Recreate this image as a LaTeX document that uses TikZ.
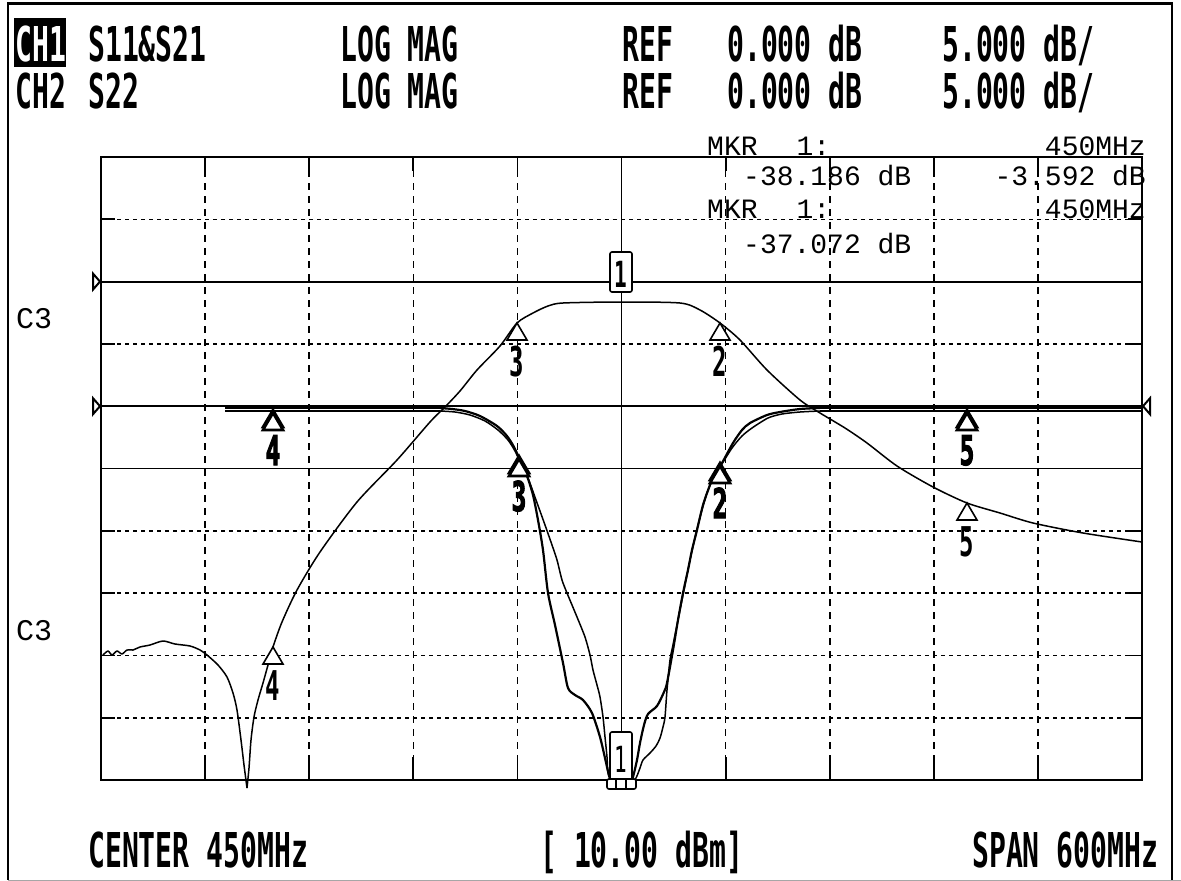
\documentclass[tikz,border=0pt]{standalone}
\usepackage{fontspec}
\newfontfamily\hpfont[FakeStretch=0.585]{DejaVu Sans Mono}
\newfontfamily\hpheavy[FakeStretch=0.585, FakeBold=2.5, UprightFont=* Bold]{DejaVu Sans Mono}
\newfontfamily\thinfont{Liberation Mono}
\tikzset{
  hdr/.style={font=\hpfont\bfseries\fontsize{48}{50}\selectfont, inner sep=0pt},
  thintxt/.style={font=\thinfont\fontsize{28}{30}\selectfont, inner sep=0pt},
  mdigit/.style={font=\hpfont\bfseries\fontsize{41}{42}\selectfont, inner sep=0pt},
  mdigitb/.style={font=\hpheavy\fontsize{41}{42}\selectfont, inner sep=0pt},
  gridsolid/.style={line width=1.8pt},
  griddash/.style={line width=1.6pt, dash pattern=on 7pt off 6pt},
  griddot/.style={line width=1.6pt, dash pattern=on 3.5pt off 4.5pt},
  gridtick/.style={line width=1.8pt},
  trace/.style={line width=1.5pt, line join=round},
  tracebold/.style={line width=2.2pt, line join=round},
  mtri/.style={line width=1.6pt, fill=white, line join=miter},
  mtrib/.style={line width=2.6pt, fill=white, line join=miter},
  reftri/.style={line width=2pt, fill=white},
  mbox/.style={line width=1.6pt, fill=white, rounded corners=2pt}
}
\newcommand\mkrtri[4]{%
  \draw[mtri] (#2,#3) -- ++(-10,17) -- ++(20,0) -- cycle;
  \node[mdigit, anchor=base] (#1) at (#2,#3+53) {#4};}
\newcommand\mkrbold[4]{%
  \draw[mtrib] (#2,#3) -- ++(-10,17) -- ++(20,0) -- cycle;
  \draw[mtrib] (#2,#3+3) -- ++(-10,17) -- ++(20,0) -- cycle;
  \node[mdigitb, anchor=base] (#1) at (#2,#3+55) {#4};}
\begin{document}
\begin{tikzpicture}[x=1pt, y=-1pt]
\useasboundingbox (0,0) rectangle (1181,881);
\fill[white] (0,0) rectangle (1181,881);
% outer frame
\draw[line width=3pt] (7,3.5) -- (1173,3.5);
\draw[line width=2pt] (8,2) -- (8,880);
\draw[line width=2pt] (1172,2) -- (1172,880);
\draw[line width=1.5pt, black!35] (8,880.5) -- (1181,880.5);
% graticule
\foreach \k in {1,2,3,4,6,7,8,9} {
  \draw[griddash] ({101+104.1*\k},157) -- ({101+104.1*\k},780);
  \draw[gridtick] ({101+104.1*\k},157) -- ++(0,14);
  \draw[gridtick] ({101+104.1*\k},780) -- ++(0,-23);
}
\draw[gridsolid] (621.5,157) -- (621.5,780);
\foreach \k in {1,3,6,7,8,9} {
  \draw[griddot] (101,{157+62.3*\k}) -- (1142,{157+62.3*\k});
  \draw[gridtick] (101,{157+62.3*\k}) -- ++(14,0);
  \draw[gridtick] (1142,{157+62.3*\k}) -- ++(-14,0);
}
\foreach \k in {2,4,5} {
  \draw[gridsolid] (101,{157+62.3*\k}) -- (1142,{157+62.3*\k});
}
\draw[line width=2pt] (101,157) rectangle (1142,780);
% reference level markers
\draw[reftri] (93,273.6) -- (100,281.6) -- (93,289.6) -- cycle;
\draw[reftri] (93,398.2) -- (100,406.2) -- (93,414.2) -- cycle;
\draw[reftri] (1150,398.2) -- (1143,406.2) -- (1150,414.2) -- cycle;
% S21 trace
\draw[trace] plot[smooth, tension=0.45] coordinates {
 (103,655) (108,651) (112,655) (117,651) (122,654) (127,650) (133,650)
 (140,647) (150,645) (163,641) (175,644) (190,646) (200,650) (207,655)
 (218,665) (227,677) (233,693) (237,710) (241,740) (244,765) (247,788)};
\draw[trace] plot[smooth, tension=0.45] coordinates {
 (247,788) (249,768) (251,740) (254,717) (258,700) (263,683) (268,665)
 (273,647) (282,622) (297,590) (320,552) (357,502) (397,460) (430,422)
 (445,407) (460,391) (477,370) (500,346) (517,323) (533,313) (548,306)
 (563,303) (620,302) (680,303) (700,310) (720,323) (740,340) (767,370)
 (800,400) (820,413) (845,428) (867,443) (897,466) (933,487) (967,503)
 (1000,513) (1033,523) (1083,533) (1142,542)};
% S11 trace
\draw[tracebold] (225,408) -- (440,408);
\draw[tracebold] plot[smooth, tension=0.45] coordinates {
 (440,408) (452,409) (465,411) (480,416) (497,426) (507,436) (514,447)
 (520,460) (527,476) (533,495) (538,520) (543,550) (548,593) (555,625)
 (563,663) (568,688) (575,695) (583,700) (592,713) (600,737) (605,758)
 (609,775) (614,784) (622,786) (630,784) (633,777) (637,760) (640,743)
 (644,725) (648,714) (657,706) (664,692) (667,683) (673,650) (678,620)
 (683,593) (688,570) (692,550) (697,530) (703,505) (710,485) (716,472)
 (722,463) (733,443) (742,430) (750,423) (767,415) (780,412) (800,409)
 (820,408)};
\draw[tracebold] (820,408) -- (1142,408);
% S22 trace
\draw[trace] (225,411) -- (440,411);
\draw[trace] plot[smooth, tension=0.45] coordinates {
 (440,411) (455,412) (470,415) (485,421) (498,430) (508,440) (515,451)
 (521,464) (528,478) (536,500) (545,525) (552,545) (557,560) (562,580)
 (567,593) (572,605) (577,617) (585,637) (590,655) (593,670) (597,685)
 (600,697) (603,717) (605,737) (607,757) (608,773) (612,783) (620,786)
 (630,786) (636,778) (640,768) (643,760) (650,753) (656,746) (660,738)
 (663,727) (665,717) (667,690) (670,660) (673,645) (678,620) (683,595)
 (690,560) (698,525) (706,496) (713,478) (720,467) (732,448) (742,436)
 (752,428) (768,418) (782,414) (800,412) (820,411)};
\draw[trace] (820,411) -- (1142,411);
% markers on S21
\mkrtri{m4t}{273}{647}{4}
\mkrtri{m3t}{517}{323}{3}
\mkrtri{m2t}{720}{323}{2}
\mkrtri{m5t}{967}{503}{5}
% markers on S11 / S22
\mkrbold{m4r}{273}{410}{4}
\mkrbold{m3r}{519}{456}{3}
\mkrbold{m2r}{720}{463}{2}
\mkrbold{m5r}{967}{410}{5}
% marker 1 boxes
\draw[mbox] (610,252) rectangle (632,292);
\node[mdigit, font=\hpfont\bfseries\fontsize{36}{36}\selectfont, anchor=base] (m1t) at (621,287) {1};
\draw[mbox] (610,732) rectangle (632,780);
\node[mdigit, font=\hpfont\fontsize{36}{36}\selectfont, anchor=base] (m1b) at (621,772) {1};
\draw[mbox] (607,779) rectangle (636,789);
\draw[line width=1.2pt] (616,779) -- (616,789) (626,779) -- (626,789);
% header
\fill[black] (14,18) rectangle (66,67);
\node[hdr, text=white, anchor=base west] (ch1) at (15,61) {CH1};
\node[hdr, anchor=base west] (s1) at (88,61) {S11\&S21};
\node[hdr, anchor=base west] (lm1) at (340,61) {LOG MAG};
\node[hdr, anchor=base west] (ref1) at (622,61) {REF};
\node[hdr, anchor=base west] (rv1) at (727,61) {0.000 dB};
\node[hdr, anchor=base west] (sc1) at (942,61) {5.000 dB/};
\node[hdr, anchor=base west] (ch2) at (15,108) {CH2};
\node[hdr, anchor=base west] (s2) at (88,108) {S22};
\node[hdr, anchor=base west] (lm2) at (340,108) {LOG MAG};
\node[hdr, anchor=base west] (ref2) at (622,108) {REF};
\node[hdr, anchor=base west] (rv2) at (727,108) {0.000 dB};
\node[hdr, anchor=base west] (sc2) at (942,108) {5.000 dB/};
% marker readouts
\node[thintxt, anchor=base west] (mk1) at (707,155) {MKR\hspace{39pt}1:};
\node[thintxt, anchor=base east] (f1) at (1146,155) {450MHz};
\node[thintxt, anchor=base west] (v1) at (743,185) {-38.186 dB};
\node[thintxt, anchor=base east] (v1b) at (1146,185) {-3.592 dB};
\node[thintxt, anchor=base west] (mk2) at (707,218) {MKR\hspace{39pt}1:};
\node[thintxt, anchor=base east] (f2) at (1146,218) {450MHz};
\node[thintxt, anchor=base west] (v2) at (743,253) {-37.072 dB};
% side labels
\node[thintxt, font=\thinfont\fontsize{30}{30}\selectfont, anchor=base west] (c3a) at (16,328) {C3};
\node[thintxt, font=\thinfont\fontsize{30}{30}\selectfont, anchor=base west] (c3b) at (16,640) {C3};
% footer
\node[hdr, anchor=base west] (ctr) at (88,867) {CENTER 450MHz};
\node[hdr, anchor=base west] (pw) at (540,867) {[ 10.00 dBm]};
\node[hdr, anchor=base west] (span) at (972,867) {SPAN 600MHz};
\end{tikzpicture}
\end{document}
